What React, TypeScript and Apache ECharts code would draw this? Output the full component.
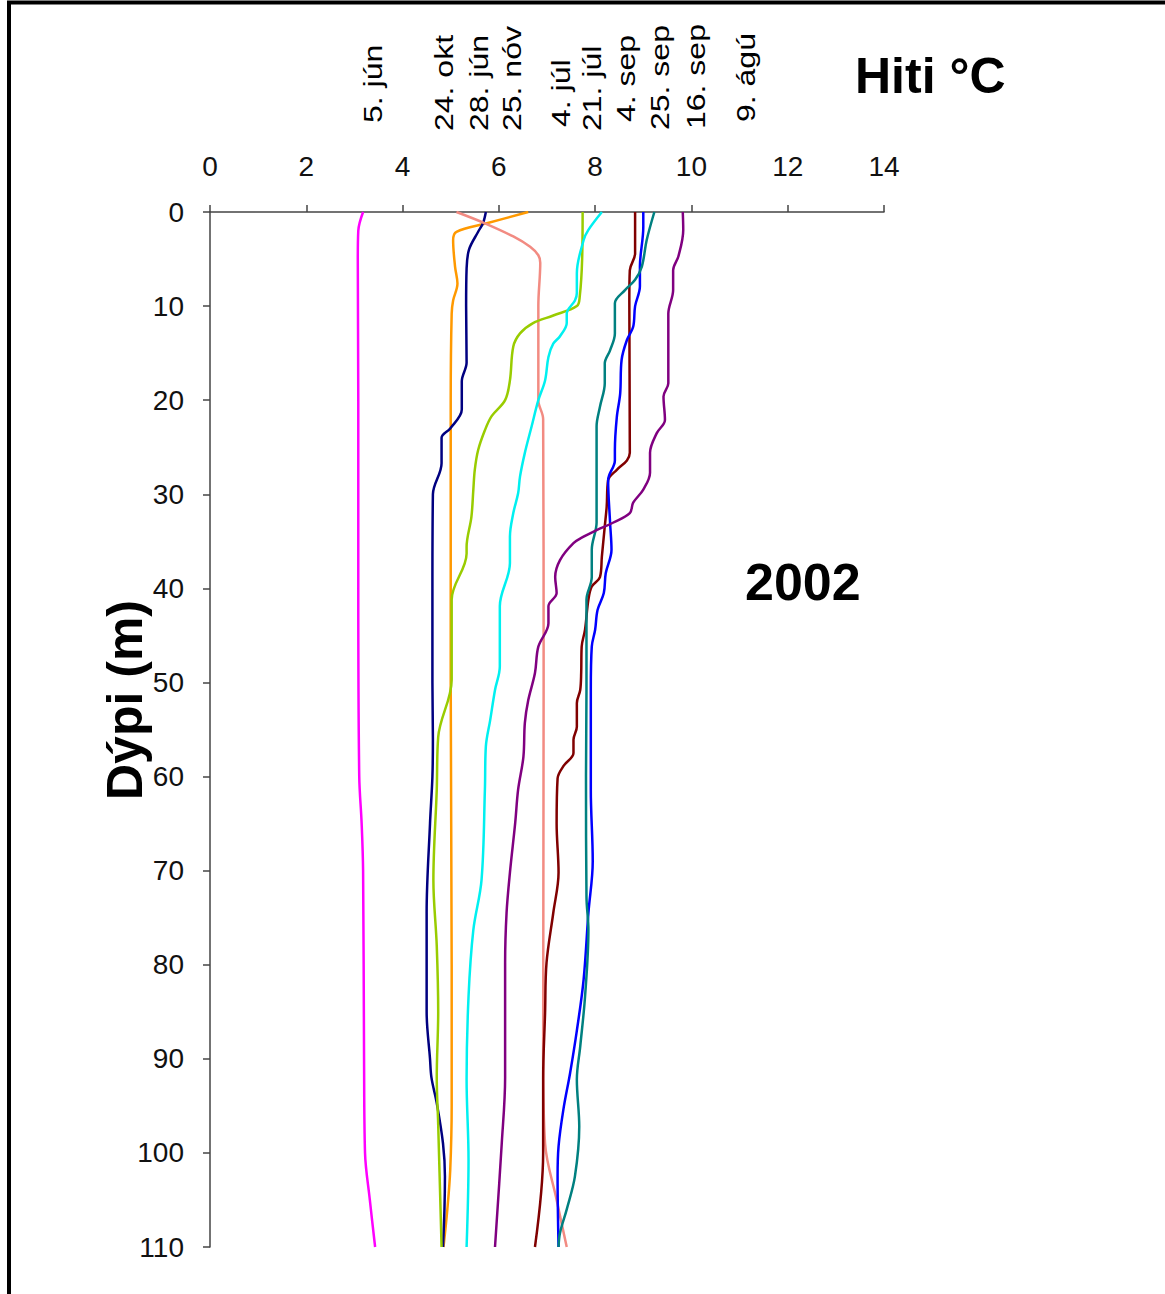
import { useEffect, useRef } from "react";
import * as echarts from "echarts";

// ---- data (temperature °C at depth m) ----
const seriesNames = ["5. jún", "24. okt", "28. jún", "25. nóv", "4. júl", "21. júl", "4. sep", "25. sep", "16. sep", "9. ágú"];
const seriesColors = ["#FF00FF", "#FF9900", "#000080", "#F28B82", "#99CC00", "#00F0F0", "#800000", "#0000FF", "#008080", "#800080"];

const junDepth = [0, 2, 5, 20, 40, 60, 65, 70, 90, 100, 105, 110];
const junTemp = [3.18, 3.08, 3.07, 3.08, 3.08, 3.1, 3.15, 3.18, 3.2, 3.22, 3.32, 3.43];

const oktDepth = [0, 1.2, 2.1, 3, 5.8, 7.6, 9.4, 10.8, 20, 50, 80, 95, 101.8, 106, 110];
const oktTemp = [6.61, 5.75, 5.12, 5.05, 5.09, 5.14, 5.05, 5.02, 5.0, 5.0, 5.02, 5.02, 4.99, 4.93, 4.85];

const jun28Depth = [0, 1.2, 2.1, 4, 6, 10, 16, 18, 21, 23, 24, 26.7, 30, 40, 50, 56, 60, 65, 74.5, 85, 90, 92, 94.7, 99, 102.5, 106, 110];
const jun28Temp = [5.73, 5.67, 5.57, 5.38, 5.33, 5.32, 5.33, 5.23, 5.23, 4.99, 4.81, 4.81, 4.63, 4.62, 4.62, 4.63, 4.62, 4.57, 4.5, 4.5, 4.57, 4.6, 4.71, 4.84, 4.88, 4.87, 4.84];

const novDepth = [0, 1.2, 2.6, 3.7, 4.6, 5.4, 10, 20, 22, 50, 90, 99, 105, 110];
const novTemp = [5.12, 5.71, 6.3, 6.65, 6.82, 6.86, 6.82, 6.82, 6.92, 6.93, 6.92, 6.96, 7.2, 7.41];

const julDepth = [0, 5, 9, 10, 11, 11.8, 12.9, 14.3, 17.9, 20, 21.7, 23.2, 25.3, 27.4, 29.5, 32.4, 35.6, 36.3, 41.2, 49.7, 55.8, 61.4, 71, 78, 85, 92, 97, 110];
const julTemp = [7.74, 7.73, 7.68, 7.62, 7.13, 6.71, 6.44, 6.3, 6.23, 6.13, 5.85, 5.71, 5.57, 5.5, 5.47, 5.43, 5.33, 5.33, 5.02, 5.02, 4.74, 4.71, 4.64, 4.71, 4.74, 4.71, 4.74, 4.81];

const jul21Depth = [0, 1.9, 3, 6.5, 8.6, 9.4, 10.8, 11.8, 13.2, 14, 15.4, 17.9, 20, 22.8, 25.6, 28.1, 29.9, 32, 34.5, 37.3, 41.9, 48.3, 50.8, 54, 56.8, 61.4, 71, 76.3, 83.4, 92.2, 100.7, 110];
const jul21Temp = [8.14, 7.86, 7.76, 7.62, 7.62, 7.58, 7.41, 7.41, 7.27, 7.13, 7.03, 6.96, 6.82, 6.68, 6.54, 6.44, 6.4, 6.3, 6.23, 6.23, 6.02, 6.02, 5.92, 5.82, 5.73, 5.71, 5.64, 5.47, 5.37, 5.33, 5.37, 5.33];

const sep4Depth = [0, 4.4, 6.2, 9.4, 25, 25.6, 26.4, 27.4, 28.5, 31.3, 33.4, 36.6, 38.8, 39.8, 41.2, 44.4, 46.2, 49, 50.8, 52.2, 54.7, 56.1, 57.5, 58.9, 60.2, 65, 70.2, 74.5, 79.8, 85.1, 92.2, 100, 110];
const sep4Temp = [8.83, 8.83, 8.72, 8.71, 8.72, 8.72, 8.66, 8.45, 8.27, 8.24, 8.2, 8.14, 8.1, 7.93, 7.86, 7.79, 7.72, 7.71, 7.69, 7.62, 7.62, 7.55, 7.55, 7.34, 7.22, 7.2, 7.24, 7.13, 6.99, 6.96, 6.92, 6.92, 6.75];

const sep25Depth = [0, 1.6, 5.8, 7.9, 10, 12.2, 13.6, 15.7, 19.3, 21.8, 25.3, 26.4, 28.5, 33, 35.9, 38.4, 40.5, 42.3, 44.4, 46.2, 50.8, 61.4, 69, 74.5, 81.6, 87, 91.5, 95.4, 99.3, 102.5, 110];
const sep25Temp = [9.0, 9.0, 8.93, 8.93, 8.83, 8.79, 8.66, 8.55, 8.52, 8.45, 8.41, 8.41, 8.27, 8.31, 8.34, 8.22, 8.18, 8.05, 8.0, 7.93, 7.91, 7.91, 7.95, 7.86, 7.76, 7.62, 7.48, 7.34, 7.24, 7.22, 7.24];

const sep16Depth = [0, 3, 5.8, 7.2, 8.3, 9.7, 12.9, 14.7, 16.1, 18.2, 20.7, 22.8, 25.3, 33, 35.9, 38.8, 41.2, 50.8, 60, 72.8, 76.3, 83.4, 88.7, 92.2, 97.2, 102.5, 106, 108.5, 110];
const sep16Temp = [9.23, 9.07, 8.97, 8.83, 8.62, 8.41, 8.41, 8.31, 8.2, 8.2, 8.1, 8.03, 8.03, 8.03, 7.93, 7.93, 7.82, 7.82, 7.81, 7.82, 7.86, 7.79, 7.69, 7.62, 7.67, 7.58, 7.41, 7.27, 7.24];

const aguDepth = [0, 1.9, 4.7, 6.2, 8.3, 10.8, 18.2, 19.6, 22.1, 23.5, 25.6, 27.7, 29.5, 30.9, 32, 33, 33.8, 34.5, 35.2, 37, 38.8, 40.5, 41.9, 43.7, 46.2, 49, 51.9, 54.3, 57.9, 61.4, 64.9, 70.2, 74.5, 79.8, 92, 99, 110];
const aguTemp = [9.82, 9.83, 9.73, 9.62, 9.62, 9.52, 9.52, 9.42, 9.45, 9.28, 9.14, 9.14, 9.0, 8.79, 8.72, 8.38, 8.03, 7.76, 7.55, 7.27, 7.17, 7.2, 7.03, 7.03, 6.82, 6.75, 6.61, 6.54, 6.51, 6.4, 6.34, 6.23, 6.16, 6.13, 6.13, 6.06, 5.92];

const allDepths = [junDepth, oktDepth, jun28Depth, novDepth, julDepth, jul21Depth, sep4Depth, sep25Depth, sep16Depth, aguDepth];
const allTemps = [junTemp, oktTemp, jun28Temp, novTemp, julTemp, jul21Temp, sep4Temp, sep25Temp, sep16Temp, aguTemp];

// ---- layout of the rotated date labels (pixel anchors) ----
const labelX = [373, 444, 479, 512, 561, 592, 626, 660, 696, 746];
const labelBottom = [123, 131, 131, 131, 127, 131, 122, 130, 129, 122];

const FONT = '"Liberation Sans", Arial, sans-serif';

export default function App() {
  const ref = useRef<HTMLDivElement>(null);
  useEffect(() => {
    if (!ref.current) return;
    const chart = echarts.init(ref.current, undefined, { renderer: "svg" });
    const series = seriesNames.map((name, i) => ({
      name,
      type: "line",
      data: allTemps[i].map((t, k) => [t, allDepths[i][k]]),
      showSymbol: false,
      symbol: "none",
      smooth: 0.35,
      lineStyle: { color: seriesColors[i], width: 2.5 },
      itemStyle: { color: seriesColors[i] },
      z: 3,
    }));
    const dateLabels = seriesNames.map((name, i) => ({
      type: "text",
      x: labelX[i],
      y: labelBottom[i],
      rotation: Math.PI / 2,
      scaleX: 1.28,
      silent: true,
      style: {
        text: name,
        fontSize: 25,
        fontFamily: FONT,
        fill: "#000",
        textAlign: "left",
        textVerticalAlign: "middle",
      },
    }));
    chart.setOption({
      animation: false,
      backgroundColor: "#fff",
      grid: { left: 210, top: 212, width: 674, height: 1035, containLabel: false },
      xAxis: {
        type: "value",
        position: "top",
        min: 0,
        max: 14,
        interval: 2,
        axisLine: { show: true, lineStyle: { color: "#444", width: 1.5 } },
        axisTick: { show: true, length: 7, lineStyle: { color: "#444", width: 1.5 } },
        splitLine: { show: false },
        axisLabel: { color: "#111", fontSize: 28, fontFamily: FONT, margin: 32 },
      },
      yAxis: {
        type: "value",
        inverse: true,
        min: 0,
        max: 110,
        interval: 10,
        axisLine: { show: true, lineStyle: { color: "#444", width: 1.5 } },
        axisTick: { show: true, length: 7, lineStyle: { color: "#444", width: 1.5 } },
        splitLine: { show: false },
        axisLabel: { color: "#111", fontSize: 28, fontFamily: FONT, margin: 26 },
      },
      series,
      graphic: [
        {
          type: "rect",
          silent: true,
          shape: { x: 9, y: 2.5, width: 1300, height: 1400 },
          style: { fill: "none", stroke: "#000", lineWidth: 4 },
        },
        {
          type: "text",
          x: 855,
          y: 76,
          silent: true,
          style: { text: "Hiti °C", fontSize: 50, fontWeight: "bold", fontFamily: FONT, fill: "#000", textAlign: "left", textVerticalAlign: "middle" },
        },
        {
          type: "text",
          x: 745,
          y: 582,
          silent: true,
          style: { text: "2002", fontSize: 52, fontWeight: "bold", fontFamily: FONT, fill: "#000", textAlign: "left", textVerticalAlign: "middle" },
        },
        {
          type: "text",
          x: 125,
          y: 700,
          rotation: Math.PI / 2,
          silent: true,
          style: { text: "Dýpi (m)", fontSize: 50, fontWeight: "bold", fontFamily: FONT, fill: "#000", textAlign: "center", textVerticalAlign: "middle" },
        },
        ...dateLabels,
      ],
    });
    return () => chart.dispose();
  }, []);
  return <div ref={ref} style={{ position: "fixed", left: 0, top: 0, width: 1165, height: 1294, background: "#fff" }} />;
}
